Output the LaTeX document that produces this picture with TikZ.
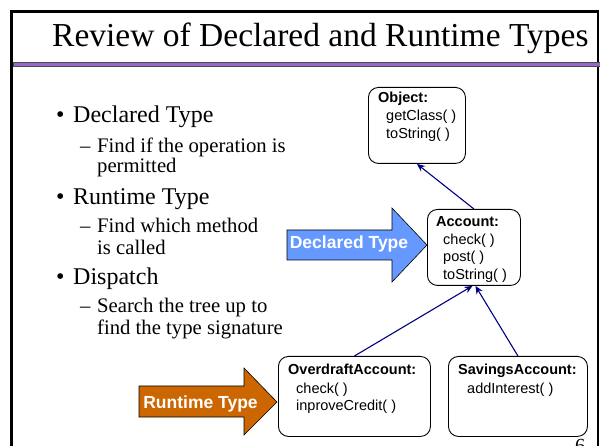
\documentclass[tikz,border=0pt]{standalone}
\usepackage{fontspec}
\setmainfont{Liberation Serif}
\setsansfont{Liberation Sans}
\usetikzlibrary{arrows.meta}
\definecolor{navyc}{HTML}{000080}
\definecolor{declblue}{HTML}{6699FF}
\definecolor{runorange}{HTML}{CC6600}
\definecolor{titlepurple}{HTML}{9966CC}
\begin{document}
\begin{tikzpicture}[x=1pt,y=-1pt,
  umlbox/.style={draw=black, line width=0.9pt, rounded corners=10pt, inner sep=0pt, anchor=north west},
  boxtitle/.style={anchor=base west, inner sep=0pt, font=\sffamily\bfseries\fontsize{14.5}{17}\selectfont},
  boxmeth/.style={anchor=base west, inner sep=0pt, font=\sffamily\fontsize{14.5}{17}\selectfont},
  inherit/.style={draw=navyc, line width=1.1pt, -{Stealth[length=8pt,width=7pt]}},
  bigarrow/.style={draw=black, line width=0.6pt},
  arrowtext/.style={anchor=base, inner sep=0pt, text=white, font=\sffamily\bfseries\fontsize{17.5}{20}\selectfont},
  lvlone/.style={anchor=base west, inner sep=0pt, font=\fontsize{24}{28}\selectfont},
  lvltwo/.style={anchor=base west, inner sep=0pt, font=\fontsize{20.7}{24}\selectfont},
  titletext/.style={anchor=base west, inner sep=0pt, font=\fontsize{33.5}{40}\selectfont}]
\useasboundingbox (0,0) rectangle (600,446);
\clip (0,0) rectangle (600,446);
% frame
\draw[line width=2.6pt, black] (11.5,450) -- (11.5,11.3) -- (598,11.3) -- (598,450);
\path[fill=titlepurple, draw=black!70, line width=0.5pt] (12.8,62) rectangle (600,66.5);
% title
\node[titletext] (title) at (52,47) {Review of Declared and Runtime Types};
% bullets
\node[lvlone] (b1) at (56,123) {\textbullet};
\node[lvlone] (t1) at (73,123) {Declared Type};
\node[lvltwo] (d1) at (80,153) {–};
\node[lvltwo] (s1a) at (97,153) {Find if the operation is};
\node[lvltwo] (s1b) at (97,173) {permitted};
\node[lvlone] (b2) at (56,205) {\textbullet};
\node[lvlone] (t2) at (73,205) {Runtime Type};
\node[lvltwo] (d2) at (80,233) {–};
\node[lvltwo] (s2a) at (97,233) {Find which method};
\node[lvltwo] (s2b) at (97,255) {is called};
\node[lvlone] (b3) at (56,285) {\textbullet};
\node[lvlone] (t3) at (73,285) {Dispatch};
\node[lvltwo] (d3) at (80,313) {–};
\node[lvltwo] (s3a) at (97,313) {Search the tree up to};
\node[lvltwo] (s3b) at (97,335) {find the type signature};
% class boxes
\node[umlbox, minimum width=97pt, minimum height=76pt] (obj) at (368,87) {};
\node[boxtitle] (objt) at (378,103) {Object:};
\node[boxmeth] (objm1) at (386,121) {getClass( )};
\node[boxmeth] (objm2) at (386,139) {toString( )};
\node[umlbox, minimum width=93pt, minimum height=76pt] (acc) at (427,209) {};
\node[boxtitle] (acct) at (436,227) {Account:};
\node[boxmeth] (accm1) at (443,244.5) {check( )};
\node[boxmeth] (accm2) at (443,262) {post( )};
\node[boxmeth] (accm3) at (443,279.5) {toString( )};
\node[umlbox, minimum width=152pt, minimum height=80pt] (od) at (278,356) {};
\node[boxtitle] (odt) at (288,375) {OverdraftAccount:};
\node[boxmeth] (odm1) at (296,393) {check( )};
\node[boxmeth] (odm2) at (296,410.5) {inproveCredit( )};
\node[umlbox, minimum width=139pt, minimum height=80pt] (sav) at (448,356) {};
\node[boxtitle] (savt) at (458,375) {SavingsAccount:};
\node[boxmeth] (savm1) at (467,393) {addInterest( )};
% inheritance connectors
\draw[inherit] (od.north) -- ([xshift=-1.5pt]acc.south);
\draw[inherit] (sav.north) -- ([xshift=1.5pt]acc.south);
\draw[inherit] (acc.north) -- (obj.south);
% big arrows
\path[bigarrow, fill=declblue] (287,230) -- (392,230) -- (392,208) -- (427,245) -- (392,282) -- (392,260) -- (287,260) -- cycle;
\node[arrowtext] (decl) at (349,249) {Declared Type};
\path[bigarrow, fill=runorange] (139,386) -- (244,386) -- (244,368) -- (277,402) -- (244,435) -- (244,417) -- (139,417) -- cycle;
\node[arrowtext] (run) at (200.5,409) {Runtime Type};
% page number
\node[anchor=base west, inner sep=0pt, font=\fontsize{20}{24}\selectfont] (pg) at (575,452) {6};
\end{tikzpicture}
\end{document}
